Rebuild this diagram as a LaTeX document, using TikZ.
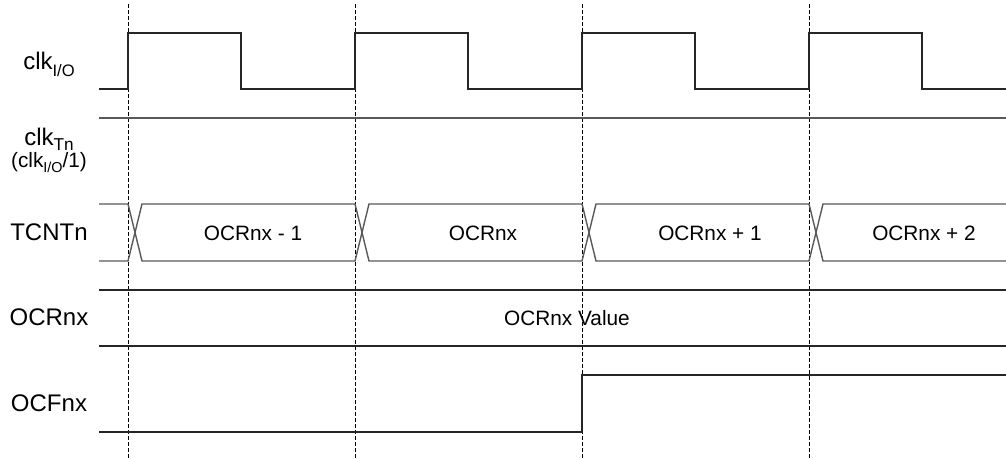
\documentclass[tikz,border=0pt]{standalone}
\usepackage{fontspec}
\setmainfont{Liberation Sans}
\usetikzlibrary{positioning}
\newcommand{\lowsub}[3]{\raisebox{-#1}{\fontsize{#2}{#2}\selectfont #3}}
\begin{document}
\begin{tikzpicture}[x=0.5pt,y=-0.5pt]
    \tikzstyle{sig}=[line width=0.7pt,black!85]
    \tikzstyle{bus}=[line width=0.7pt,black!65]
    \tikzstyle{edge}=[line width=0.45pt,dash pattern=on 2pt off 1pt]
    \tikzstyle{lbl}=[inner sep=0,anchor=base,font=\fontsize{12}{14}\selectfont]
    \tikzstyle{val}=[inner sep=0,anchor=base,font=\fontsize{10.4}{12}\selectfont]
    \useasboundingbox (0,0) rectangle (1006,459);
    \node[lbl] (clkio) at (49,70) {clk\lowsub{3.3pt}{8.3pt}{I/O}} ;
    \node[lbl] (clkt) at (49,146) {clk\lowsub{2.5pt}{8.6pt}{Tn}} ;
    \node[val] (clktdiv) at (49,168) {(clk\lowsub{2.5pt}{7.2pt}{I/O}/1)} ;
    \node[lbl] (tcnt) at (49,241) {TCNTn} ;
    \node[lbl] (ocr) at (49,326) {OCRnx} ;
    \node[lbl] (ocf) at (49,412) {OCFnx} ;
    \node[val] (cnt0) at (253,241) {OCRnx - 1} ;
    \node[val] (cnt1) at (483,241) {OCRnx} ;
    \node[val] (cnt2) at (710,241) {OCRnx + 1} ;
    \node[val] (cnt3) at (924,241) {OCRnx + 2} ;
    \node[val] (ocrval) at (567,326) {OCRnx Value} ;
    \foreach \x in {128,355,582,809}
      \draw[edge] (\x,4) -- (\x,459) ;
    \draw[sig] (99,89) -- (128,89) -- (128,33) -- (241,33) -- (241,89)
      -- (355,89) -- (355,33) -- (468,33) -- (468,89)
      -- (582,89) -- (582,33) -- (695,33) -- (695,89)
      -- (809,89) -- (809,33) -- (922,33) -- (922,89) -- (1006,89) ;
    \draw[bus] (99,118) -- (1006,118) ;
    \draw[bus] (99,204) -- (128,204) -- (142,261) -- (355,261) -- (369,204)
      -- (582,204) -- (596,261) -- (809,261) -- (823,204) -- (1006,204) ;
    \draw[bus] (99,261) -- (128,261) -- (142,204) -- (355,204) -- (369,261)
      -- (582,261) -- (596,204) -- (809,204) -- (823,261) -- (1006,261) ;
    \draw[sig] (99,290) -- (1006,290) ;
    \draw[sig] (99,346) -- (1006,346) ;
    \draw[sig] (99,432) -- (582,432) -- (582,375) -- (1006,375) ;
\end{tikzpicture}
\end{document}
